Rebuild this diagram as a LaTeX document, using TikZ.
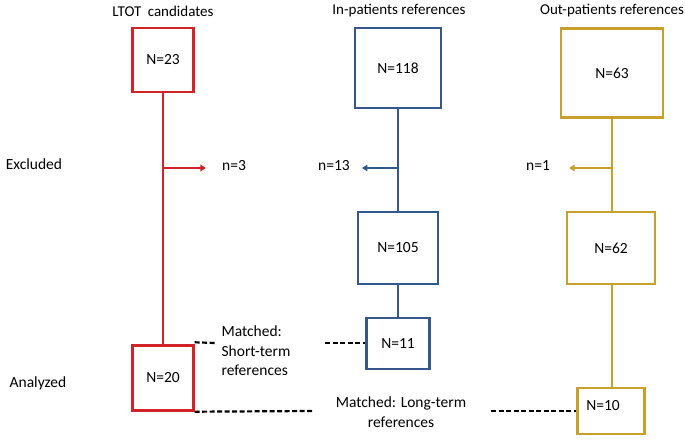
\documentclass[tikz,border=0pt]{standalone}
\usepackage{fontspec}
\setmainfont{Carlito}
\usetikzlibrary{arrows.meta}
\definecolor{cred}{RGB}{210,35,40}
\definecolor{cblue}{RGB}{52,88,138}
\definecolor{cgold}{RGB}{198,160,42}
\tikzset{
  lbl/.style={inner sep=2bp, font=\fontsize{15.5bp}{19bp}\selectfont},
  hdr/.style={inner sep=2bp, font=\fontsize{15bp}{18bp}\selectfont},
  boxr/.style={draw=cred, line width=2.4bp, inner sep=0pt, font=\fontsize{15.5bp}{18bp}\selectfont},
  boxb/.style={draw=cblue, line width=2.4bp, inner sep=0pt, font=\fontsize{15.5bp}{18bp}\selectfont},
  boxg/.style={draw=cgold, line width=2.4bp, inner sep=0pt, font=\fontsize{15.5bp}{18bp}\selectfont},
  lnr/.style={draw=cred, line width=2bp},
  lnb/.style={draw=cblue, line width=2bp},
  lng/.style={draw=cgold, line width=2bp},
  arr/.style={-{Triangle[width=6.5bp,length=5.5bp]}},
  dsh/.style={draw=black, line width=2.2bp, dash pattern=on 5bp off 2.5bp},
}
\begin{document}
\begin{tikzpicture}[x=1bp,y=-1bp]
\useasboundingbox (0,0) rectangle (685,443);
% headers
\node[hdr] (h1) at (163,11) {LTOT\hspace{3bp} candidates};
\node[hdr] (h2) at (399,11) {In-patients references};
\node[hdr] (h3) at (612,11) {Out-patients references};
\node[lbl] (exc) at (34,164) {Excluded};
\node[lbl] (ana) at (38,383) {Analyzed};
% red column
\node[boxr, minimum width=61bp, minimum height=64bp] (r1) at (163,60) {N=23};
\node[boxr, minimum width=61bp, minimum height=65bp] (r2) at (163,378) {N=20};
% blue column
\node[boxb, minimum width=86bp, minimum height=80bp] (b1) at (398,68) {N=118};
\node[boxb, minimum width=80bp, minimum height=72bp] (b2) at (398,248) {N=105};
\node[boxb, minimum width=63bp, minimum height=51bp] (b3) at (398,343.5) {N=11};
% gold column
\node[boxg, minimum width=102bp, minimum height=89bp] (g1) at (612,73) {N=63};
\node[boxg, minimum width=88bp, minimum height=72bp] (g2) at (611,248) {N=62};
\node[boxg, minimum width=67bp, minimum height=46bp] (g3) at (611,411) {};
\node[lbl] (g3t) at (603,406) {N=10};
% excluded labels
\node[lbl] (n3) at (234,166) {n=3};
\node[lbl] (n13) at (334,166) {n=13};
\node[lbl] (n1) at (538,166) {n=1};
% vertical connectors
\draw[lnr] (r1.south) -- (r2.north);
\draw[lnb] (b1.south) -- (b2.north);
\draw[lnb] (b2.south) -- (b3.north);
\draw[lng] (g1.south -| 612,0) -- (g2.north -| 612,0);
\draw[lng] (g2.south -| 612,0) -- (g3.north -| 612,0);
% exclusion arrows
\draw[lnr, arr, shorten >=14bp] (r1.south |- 0,168) -- (n3.west |- 0,168);
\draw[lnb, arr, shorten >=10bp] (b1.south |- 0,168) -- (n13.east |- 0,168);
\draw[lng, arr, shorten >=17bp] (612,168) -- (n1.east |- 0,168);
% matched texts
\node[lbl, align=left, font=\fontsize{15.5bp}{19.5bp}\selectfont] (st) at (256,351) {Matched:\\Short-term\\references};
\node[lbl, align=center, font=\fontsize{15.5bp}{20bp}\selectfont] (lt) at (401,412) {Matched: Long-term\\references};
\coordinate (s1) at (215,343);
\coordinate (s2) at (325,343);
\coordinate (l1) at (313,411);
\coordinate (l2) at (491,411);
\draw[dsh] ([yshift=2bp]r2.north east) -- (s1);
\draw[dsh] (s2) -- (b3.west |- s2);
\draw[dsh] (r2.south east) -- (l1);
\draw[dsh] (l2) -- (g3.west);
\end{tikzpicture}
\end{document}
